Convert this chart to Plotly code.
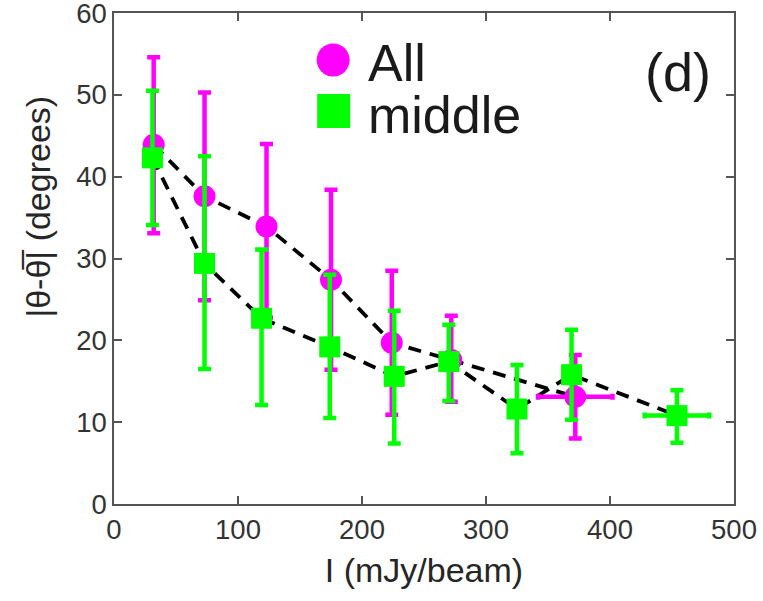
import plotly.graph_objects as go

# "All" sample (magenta circles)
all_x = [32, 73, 123, 175, 224, 272, 372]
all_y = [43.9, 37.6, 33.9, 27.4, 19.7, 17.6, 13.1]
all_hi = [54.6, 50.3, 44.0, 38.4, 28.5, 23.0, 18.2]
all_lo = [33.1, 24.9, 22.8, 16.4, 10.9, 12.5, 8.0]
all_xerr = [0, 0, 0, 0, 0, 0, 30]

# "middle" sample (green squares)
mid_x = [31, 73, 119, 174, 226, 270, 325, 369, 454]
mid_y = [42.3, 29.4, 22.7, 19.2, 15.6, 17.4, 11.6, 15.8, 10.8]
mid_hi = [50.5, 42.5, 31.1, 28.0, 23.6, 21.9, 17.0, 21.3, 13.9]
mid_lo = [34.1, 16.5, 12.1, 10.5, 7.4, 12.6, 6.2, 10.3, 7.5]
mid_xerr = [0, 0, 0, 0, 0, 0, 0, 0, 26]

x_ticks = [0, 100, 200, 300, 400, 500]
y_ticks = [0, 10, 20, 30, 40, 50, 60]

MAG = "#ff00ff"
GRN = "#00ff00"
FONT = "Liberation Sans, Arial, sans-serif"

# plot area in page pixels
L, R, T, B = 113.5, 734.5, 13, 504
W, H = 763, 601


def px(x):
    return (x - L) / (R - L)


def py(y):
    return (B - y) / (B - T)


fig = go.Figure()

# dashed connecting lines
fig.add_trace(go.Scatter(x=all_x, y=all_y, mode="lines",
                         line=dict(color="black", width=3.8, dash="13px,9px"),
                         showlegend=False, hoverinfo="skip"))
fig.add_trace(go.Scatter(x=mid_x, y=mid_y, mode="lines",
                         line=dict(color="black", width=3.8, dash="13px,9px"),
                         showlegend=False, hoverinfo="skip"))

fig.add_trace(go.Scatter(
    x=all_x, y=all_y, mode="markers", name="All",
    marker=dict(symbol="circle", size=22, color=MAG, line=dict(width=0)),
    error_y=dict(type="data", symmetric=False,
                 array=[h - v for h, v in zip(all_hi, all_y)],
                 arrayminus=[v - l for l, v in zip(all_lo, all_y)],
                 color=MAG, thickness=4.5, width=6.5),
    error_x=dict(type="data", array=all_xerr, color=MAG, thickness=4.5, width=3),
    showlegend=False))

fig.add_trace(go.Scatter(
    x=mid_x, y=mid_y, mode="markers", name="middle",
    marker=dict(symbol="square", size=21, color=GRN, line=dict(width=0)),
    error_y=dict(type="data", symmetric=False,
                 array=[h - v for h, v in zip(mid_hi, mid_y)],
                 arrayminus=[v - l for l, v in zip(mid_lo, mid_y)],
                 color=GRN, thickness=4.5, width=6.5),
    error_x=dict(type="data", array=mid_xerr, color=GRN, thickness=4.5, width=3),
    showlegend=False))

# hand-drawn legend
shapes = [
    dict(type="circle", xref="paper", yref="paper",
         x0=px(316.5), x1=px(349.5), y0=py(43.5), y1=py(76.5),
         fillcolor=MAG, line=dict(width=0)),
    dict(type="rect", xref="paper", yref="paper",
         x0=px(317), x1=px(350), y0=py(94), y1=py(128),
         fillcolor=GRN, line=dict(width=0)),
]

annotations = [
    dict(text="All", x=px(366), y=py(63), xref="paper", yref="paper",
         xanchor="left", yanchor="middle", showarrow=False,
         font=dict(family=FONT, size=52, color="#1a1a1a")),
    dict(text="middle", x=px(366), y=py(115), xref="paper", yref="paper",
         xanchor="left", yanchor="middle", showarrow=False,
         font=dict(family=FONT, size=52, color="#1a1a1a")),
    dict(text="(d)", x=px(678), y=py(72), xref="paper", yref="paper",
         xanchor="center", yanchor="middle", showarrow=False,
         font=dict(family=FONT, size=54, color="#1a1a1a")),
    dict(text="|\u03b8-\u03b8\u0305| (degrees)", x=px(37), y=py(207),
         xref="paper", yref="paper", textangle=-90,
         xanchor="center", yanchor="middle", showarrow=False,
         font=dict(family=FONT, size=34, color="#262626")),
]

axis_common = dict(showgrid=False, zeroline=False, showline=True,
                   linecolor="#555555", linewidth=1.5, mirror="ticks",
                   ticks="inside", ticklen=8, tickwidth=1.5, tickcolor="#555555",
                   ticklabeloverflow="allow", automargin=False,
                   tickfont=dict(family=FONT, size=27.5, color="#333333"))

fig.update_layout(
    width=W, height=H,
    margin=dict(l=L, r=W - R, t=T, b=H - B, autoexpand=False),
    paper_bgcolor="white", plot_bgcolor="white",
    xaxis=dict(range=[0, 500], tickvals=x_ticks,
               title=dict(text="I (mJy/beam)", standoff=14,
                          font=dict(family=FONT, size=34, color="#262626")),
               **axis_common),
    yaxis=dict(range=[0, 60], tickvals=y_ticks, **axis_common),
    shapes=shapes, annotations=annotations,
)

# drop the browser's default body margin so the figure sits at the page corner
fig.write_html("out.html", config={"displayModeBar": False},
               post_script="document.body.style.margin='0';")
